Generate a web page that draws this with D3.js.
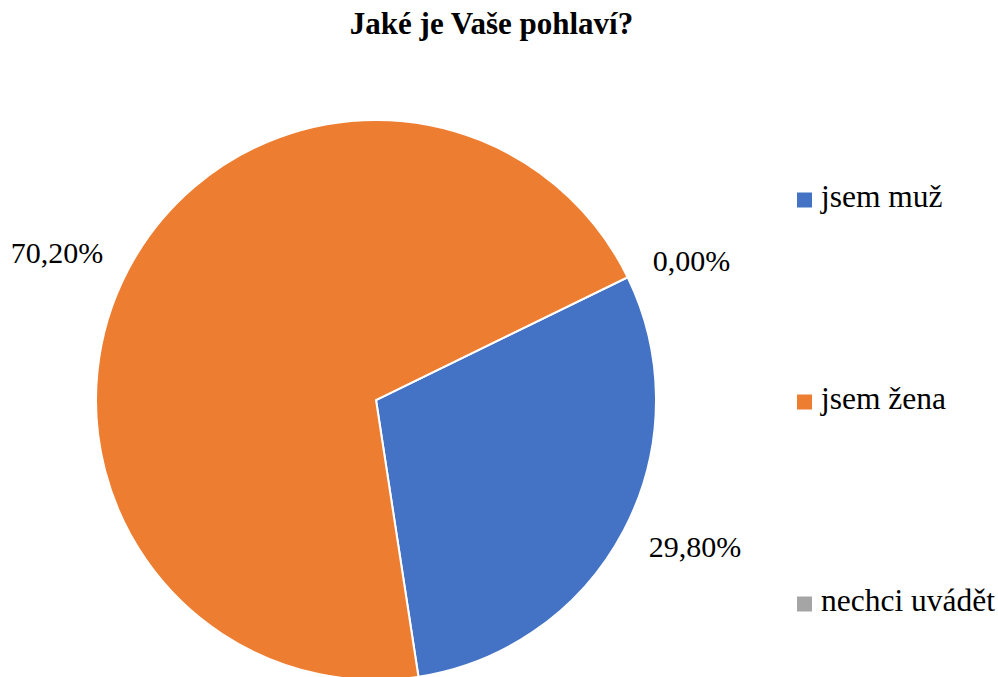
<!DOCTYPE html>
<html>
<head>
<meta charset="utf-8">
<script src="https://cdn.jsdelivr.net/npm/d3@7"></script>
</head>
<body style="margin:0">
<svg id="chart" width="998" height="677"></svg>
<script>
const categories = ["jsem muž", "jsem žena", "nechci uvádět"];
const values = [29.8, 70.2, 0];
const labels = ["29,80%", "70,20%", "0,00%"];
const colors = ["#4472C4", "#ED7D31", "#A5A5A5"];

const cx = 376,
  cy = 400,
  radius = 280;
const startAngle = (64 * Math.PI) / 180;
const font = "Liberation Serif";

const svg = d3.select("#chart");

// title
svg
  .append("text")
  .attr("x", 491.5)
  .attr("y", 34)
  .attr("text-anchor", "middle")
  .attr("font-family", font)
  .style("font-size", "31px")
  .style("font-weight", "bold")
  .text("Jaké je Vaše pohlaví?");

const data = categories.map((c, i) => ({ name: c, value: values[i], label: labels[i], color: colors[i] }));

const pie = d3
  .pie()
  .sort(null)
  .value((d) => d.value)
  .startAngle(startAngle)
  .endAngle(startAngle + 2 * Math.PI);

const arcs = pie(data);

const arc = d3.arc().innerRadius(0).outerRadius(radius);

const g = svg.append("g").attr("transform", `translate(${cx}, ${cy})`);

g.selectAll("path")
  .data(arcs.filter((d) => d.value > 0))
  .join("path")
  .attr("d", arc)
  .attr("fill", (d) => d.data.color)
  .attr("stroke", "#fff")
  .attr("stroke-width", 2);

// data labels outside the pie
const labelArc = d3.arc().innerRadius(308).outerRadius(308);
const midAngle = (d) => (d.startAngle + d.endAngle) / 2;

g.selectAll(".lbl")
  .data(arcs)
  .join("text")
  .attr("class", "lbl")
  .attr("transform", (d) => {
    const [x, y] = labelArc.centroid(d);
    const down = Math.cos(midAngle(d)) < 0 ? 8 : 0;
    return `translate(${x}, ${y + down})`;
  })
  .attr("text-anchor", (d) => (Math.sin(midAngle(d)) >= 0 ? "start" : "end"))
  .attr("dy", "0.2em")
  .attr("font-family", font)
  .style("font-size", "30px")
  .text((d) => d.data.label);

// legend
const legendY = d3.scalePoint().domain(categories).range([200, 604]);

const legend = svg
  .selectAll(".legend")
  .data(data)
  .join("g")
  .attr("class", "legend")
  .attr("transform", (d) => `translate(797, ${legendY(d.name)})`);

legend
  .append("rect")
  .attr("x", 0)
  .attr("y", -7.5)
  .attr("width", 15)
  .attr("height", 15)
  .attr("fill", (d) => d.color);

legend
  .append("text")
  .attr("x", 24)
  .attr("y", 6.5)
  .attr("font-family", font)
  .style("font-size", "31.5px")
  .text((d) => d.name);
</script>
</body>
</html>
